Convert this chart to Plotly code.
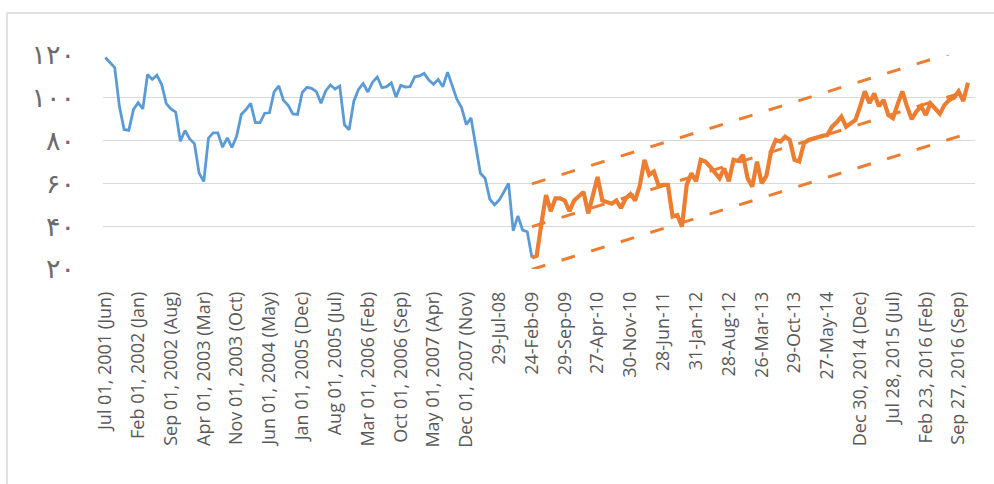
import numpy as np
import plotly.graph_objects as go

# monthly axis: Jul 2001 .. Dec 2016, a label every 7 months
n_categories = 186
label_step = 7

tick_labels = [
    "Jul 01, 2001 (Jun)", "Feb 01, 2002 (Jan)", "Sep 01, 2002 (Aug)", "Apr 01, 2003 (Mar)",
    "Nov 01, 2003 (Oct)", "Jun 01, 2004 (May)", "Jan 01, 2005 (Dec)", "Aug 01, 2005 (Jul)",
    "Mar 01, 2006 (Feb)", "Oct 01, 2006 (Sep)", "May 01, 2007 (Apr)", "Dec 01, 2007 (Nov)",
    "29-Jul-08", "24-Feb-09", "29-Sep-09", "27-Apr-10", "30-Nov-10", "28-Jun-11",
    "31-Jan-12", "28-Aug-12", "26-Mar-13", "29-Oct-13", "27-May-14",
    "Dec 30, 2014 (Dec)", "Jul 28, 2015 (Jul)", "Feb 23, 2016 (Feb)", "Sep 27, 2016 (Sep)",
]

# first period (blue)
blue_values = [
    118.8, 116.4, 114.1, 96.0, 85.2, 84.8, 94.5, 97.7, 94.8, 110.9,
    108.6, 110.5, 106.3, 97.3, 94.8, 93.3, 79.7, 84.7, 80.8, 78.6,
    64.8, 60.9, 81.2, 83.6, 83.6, 76.9, 81.3, 76.8, 82.0, 92.2,
    94.5, 97.4, 88.4, 88.4, 92.8, 93.0, 102.8, 105.6, 98.8, 96.5,
    92.5, 92.2, 102.5, 104.9, 104.4, 102.9, 97.5, 103.2, 106.0, 104.1,
    105.5, 87.4, 85.1, 98.4, 103.9, 106.7, 102.7, 107.3, 109.7, 104.7,
    105.2, 107.0, 100.3, 105.8, 105.0, 105.2, 109.8, 110.2, 111.4, 108.3,
    106.3, 108.6, 105.2, 112.0, 105.5, 99.2, 95.3, 87.5, 90.6, 78.0,
    64.7, 62.4, 52.7, 50.0, 52.2, 56.0, 60.0, 37.8, 44.8, 38.2,
    37.4, 25.3,
]

# second period (orange), starts on the last blue month
orange_start = 91
orange_values = [
    25.3, 26.2, 41.0, 54.6, 47.0, 53.0, 53.0, 52.0, 47.0, 52.0,
    54.0, 56.0, 46.0, 54.0, 63.0, 52.0, 51.0, 50.5, 52.0, 48.5,
    53.0, 55.0, 52.0, 59.0, 71.0, 64.0, 65.5, 59.0, 59.3, 59.3,
    44.5, 45.2, 39.8, 59.3, 64.7, 61.0, 71.0, 70.2, 67.8, 65.0,
    62.4, 67.0, 61.0, 71.0, 70.5, 73.3, 62.4, 58.5, 70.2, 60.0,
    63.5, 75.0, 80.3, 79.5, 81.8, 80.3, 71.0, 70.2, 78.7, 80.3,
    81.0, 81.8, 82.2, 82.6, 86.5, 88.5, 91.2, 86.5, 88.1, 89.7,
    96.0, 103.0, 97.5, 102.0, 96.0, 99.0, 92.0, 90.5, 97.0, 103.0,
    96.0, 90.0, 93.6, 96.0, 92.0, 97.4, 95.0, 92.5, 96.7, 99.0,
    100.0, 103.0, 98.5, 107.0,
]

# trend line (first and last month of orange), band +-20
trend_ends = [39.8, 103.3]
band_offset = 20

y_ticks = [20, 40, 60, 80, 100, 120]
y_tick_text = ["۲۰", "۴۰", "۶۰", "۸۰", "۱۰۰", "۱۲۰"]

BLUE = "#5B9BD5"
ORANGE = "#ED7D31"
GREY_TXT = "#595959"
GRID = "#D9D9D9"

x_blue = np.arange(len(blue_values))
x_orange = np.arange(orange_start, orange_start + len(orange_values))
x_trend = [x_orange[0], x_orange[-1]]

fig = go.Figure()

fig.add_trace(go.Scatter(x=x_blue, y=blue_values, mode="lines",
                         line=dict(color=BLUE, width=2.8), showlegend=False))
fig.add_trace(go.Scatter(x=x_orange, y=orange_values, mode="lines",
                         line=dict(color=ORANGE, width=4.2), showlegend=False))
for off in (0, band_offset, -band_offset):
    fig.add_trace(go.Scatter(x=x_trend, y=[v + off for v in trend_ends], mode="lines",
                             line=dict(color=ORANGE, width=3, dash="14px,17px"),
                             showlegend=False))

fig.update_layout(
    width=994,
    height=484,
    margin=dict(l=103, r=19, t=55, b=215),
    paper_bgcolor="white",
    plot_bgcolor="white",
    xaxis=dict(
        range=[-0.5, n_categories - 0.5],
        tickvals=list(range(0, n_categories, label_step))[:len(tick_labels)],
        ticktext=tick_labels,
        tickangle=-90,
        tickfont=dict(family="Open Sans", size=18, color=GREY_TXT),
        showgrid=False, zeroline=False, showline=False,
        ticklabelstandoff=18,
    ),
    yaxis=dict(
        range=[20, 120],
        tickvals=y_ticks,
        ticktext=y_tick_text,
        tickfont=dict(family="DejaVu Sans", size=27, color="#6B6B6B"),
        gridcolor=GRID, gridwidth=1.3,
        zeroline=False, showline=False,
        ticklabelstandoff=27,
    ),
    shapes=[dict(type="rect", xref="paper", yref="paper",
                 x0=-0.110, x1=1.03, y0=-1.1, y1=1.196,
                 line=dict(color=GRID, width=1.5), layer="below")],
)

# drop the browser's default body margin so the chart sits at the page corner
fig.write_html("out.html", config={"displayModeBar": False},
               post_script="document.body.style.margin='0';")
